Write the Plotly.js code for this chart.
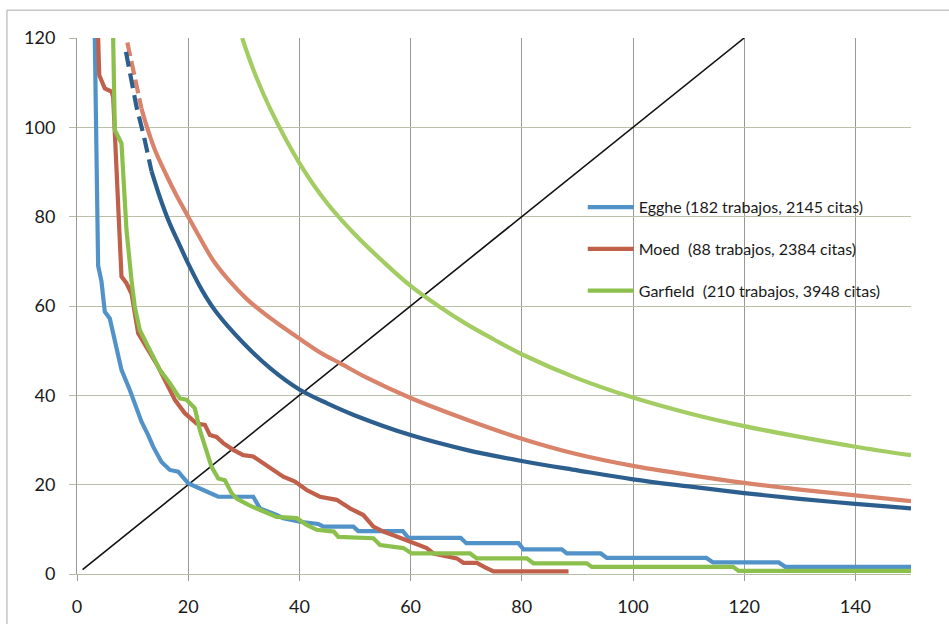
<!DOCTYPE html>
<html><head><meta charset="utf-8">
<script src="https://cdn.plot.ly/plotly-3.0.1.min.js"></script>
<style>html,body{margin:0;padding:0;background:#fff;}#chart{width:949px;height:624px;}</style>
</head><body><div id="chart"></div>
<script>
// Reference diagonal y = x
const diagX = [1, 120];
const diagY = [1, 120];

// Egghe (stepped, observed)
const eggheStepX = [3.2,3.4,3.6,3.8,4.4,5.0,5.9,7.1,8.0,9.5,10.7,11.6,12.8,13.7,15.2,16.7,18.2,20,22.7,25.4,31.7,32.9,35.9,37.1,40.1,43.4,44.3,49.7,50.6,58.6,59.6,69.0,70.0,79.4,80.3,87.2,88.1,94.2,95.3,113.2,114.4,126.2,127.4,150];
const eggheStepY = [120,100,75,69,65.5,58.7,57.2,50.1,45.7,41.2,37.5,34.1,31.1,28.5,25.1,23.3,22.9,20.3,18.8,17.3,17.3,14.7,13.2,12.5,11.7,11.2,10.6,10.6,9.6,9.6,8.1,8.1,6.9,6.9,5.5,5.5,4.6,4.6,3.6,3.6,2.6,2.6,1.6,1.6];

// Moed (stepped, observed)
const moedStepX = [3.8,4.0,5.0,6.2,6.5,7.4,8.0,8.9,9.8,11,13.1,14.6,16.1,17.6,19.4,21.5,23,23.9,25.1,26.3,28.1,29.9,31.7,33.5,35.3,37.1,39.2,41.3,43.7,46.7,49.1,51.5,53.3,55.1,57.5,59.3,60.5,62.9,64.1,68.3,69.5,71.9,73.4,74.9,88.4];
const moedStepY = [120,111.7,108.7,108,106.9,84.5,66.6,65.1,62.8,53.9,49.4,46.4,42.7,39,36,33.7,33.4,31.1,30.7,29.3,27.8,26.6,26.3,24.8,23.3,21.8,20.7,18.8,17.3,16.6,14.7,13.2,10.6,9.5,8.4,7.6,6.9,5.8,4.6,3.5,2.5,2.5,1.5,0.6,0.6];

// Garfield (stepped, observed)
const garfStepX = [6.5,6.8,8.0,8.9,9.8,10.4,11.3,13.1,14.9,16.7,18.5,19.7,21.2,22.1,23,24.2,25.4,26.6,27.8,28.7,31.1,32.9,35.9,39.5,41.3,43.1,46.2,47.0,53.3,54.5,58.7,60.2,70.7,71.9,80.9,82.1,91.7,92.6,118,119,150];
const garfStepY = [120,99.4,96.4,77,65.8,59.8,54.6,50.1,45.7,42.7,39.3,39,37.1,32.2,28.5,24,21.4,21,18.1,16.9,15.3,14.3,12.8,12.5,11,9.9,9.5,8.3,8.0,6.5,5.8,4.6,4.6,3.5,3.5,2.4,2.4,1.6,1.6,0.7,0.7];

// Egghe (fitted curve): dashed head + solid body
const eggheFitDashX = [8.8,9.7,10.7,12.05,13.4];
const eggheFitDashY = [116.9,110.5,104.6,97.9,90.2];
const eggheFitX = [13.4,15,16.5,18.5,20,22.5,25,30,35,40,45,50,60,70,80,90,100,110,120,130,140,150];
const eggheFitY = [90.2,84,79,73.5,69.5,63.5,58.7,51.6,45.8,41.3,38.2,35.5,31.1,27.8,25.3,23.2,21.2,19.6,18.1,16.8,15.7,14.7];

// Moed (fitted curve): dashed head + solid body
const moedFitDashX = [9.05,10.2,11.6];
const moedFitDashY = [119,111.8,104.2];
const moedFitX = [11.6,12.6,14,16,18,20,22,24.5,27.5,30.5,34,37,40,44,47.3,52,60,70,80,90,100,110,120,130,140,150];
const moedFitY = [104.2,100,95,89.5,84.5,80,75.5,70.2,65.5,61.6,58,55.3,52.7,49.4,47.2,44,39.4,34.6,30.3,26.8,24.2,22.2,20.4,18.9,17.6,16.3];

// Garfield (fitted curve)
const garfFitX = [29.7,32,35,40,45,50,55,60,65,70,75,80,90,100,110,120,130,140,150];
const garfFitY = [120,112,103.5,92,83,76,70,64.5,60,56,52.5,49.2,43.8,39.5,36,33.1,30.7,28.5,26.6];

const legendNames = ['Egghe (182 trabajos, 2145 citas)', 'Moed\u00a0 (88 trabajos, 2384 citas)', 'Garfield\u00a0 (210 trabajos, 3948 citas)'];
const xTicks = [0,20,40,60,80,100,120,140];
const yTicks = [0,20,40,60,80,100,120];

const cBlueStep = '#5193c8', cBlueFit = '#2c5f8e';
const cRedStep = '#c0604a', cRedFit = '#d9836b';
const cGreenStep = '#8cc04c', cGreenFit = '#a3cd62';
const W = 4.2;

const traces = [
  {x: diagX, y: diagY, mode: 'lines', line: {color: '#111', width: 1.6}, showlegend: false},
  {x: moedFitDashX, y: moedFitDashY, mode: 'lines', line: {color: cRedFit, width: W, dash: '14px,5px'}, showlegend: false},
  {x: moedFitX, y: moedFitY, mode: 'lines', line: {color: cRedFit, width: W, shape: 'spline', smoothing: 1}, showlegend: false},
  {x: eggheFitDashX, y: eggheFitDashY, mode: 'lines', line: {color: cBlueFit, width: W, dash: '15px,7px'}, showlegend: false},
  {x: eggheFitX, y: eggheFitY, mode: 'lines', line: {color: cBlueFit, width: W, shape: 'spline', smoothing: 1}, showlegend: false},
  {x: garfFitX, y: garfFitY, mode: 'lines', line: {color: cGreenFit, width: W, shape: 'spline', smoothing: 1}, showlegend: false},
  {x: eggheStepX, y: eggheStepY, mode: 'lines', name: legendNames[0], legendgroup: 'e', line: {color: cBlueStep, width: W}},
  {x: moedStepX, y: moedStepY, mode: 'lines', name: legendNames[1], legendgroup: 'm', line: {color: cRedStep, width: W}},
  {x: garfStepX, y: garfStepY, mode: 'lines', name: legendNames[2], legendgroup: 'g', line: {color: cGreenStep, width: W}}
];

const layout = {
  width: 949, height: 624,
  margin: {l: 77, r: 38.4, t: 38, b: 50, pad: 0},
  paper_bgcolor: '#fff', plot_bgcolor: '#fff',
  font: {family: 'Lato, "Liberation Sans", sans-serif', color: '#1a1a1a'},
  showlegend: true,
  legend: {x: 0.6064, xanchor: 'left', y: 0.716, yanchor: 'top', bgcolor: 'rgba(0,0,0,0)',
           font: {size: 16, color: '#1a1a1a'}, tracegroupgap: 18, traceorder: 'grouped', itemwidth: 46},
  xaxis: {range: [0, 150], tickvals: xTicks, ticktext: xTicks.map(String), showgrid: true,
          gridcolor: '#9a9a94', gridwidth: 1, zeroline: false, showline: true, linecolor: '#b6bda6', linewidth: 1,
          ticks: 'outside', ticklen: 6, tickcolor: '#9a9a94', tickfont: {size: 18, color: '#1a1a1a'},
          ticklabelstandoff: 10, fixedrange: true},
  yaxis: {range: [0, 120], tickvals: yTicks, ticktext: yTicks.map(String), showgrid: true,
          gridcolor: '#b9c1aa', gridwidth: 1, zeroline: false, showline: true, linecolor: '#9a9a94', linewidth: 1,
          ticks: 'outside', ticklen: 7, tickcolor: '#b6bda6', tickfont: {size: 18, color: '#1a1a1a'},
          ticklabelstandoff: 10, fixedrange: true},
  shapes: [
    {type: 'line', xref: 'paper', yref: 'paper', x0: -0.084, x1: -0.084, y0: -0.1, y1: 1.052, line: {color: '#a8a8a8', width: 1}},
    {type: 'line', xref: 'paper', yref: 'paper', x0: -0.084, x1: 1.05, y0: 1.052, y1: 1.052, line: {color: '#a8a8a8', width: 1}}
  ]
};

Plotly.newPlot('chart', traces, layout, {displayModeBar: false, staticPlot: true});
</script>
</body></html>
